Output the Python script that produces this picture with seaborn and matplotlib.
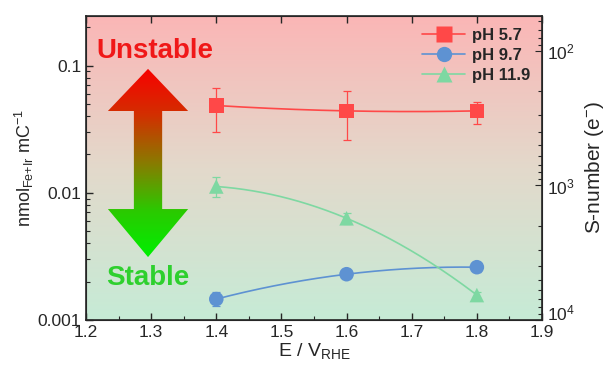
import numpy as np
import pandas as pd
import matplotlib
matplotlib.use("Agg")
import matplotlib.pyplot as plt
from matplotlib.patches import Polygon
from matplotlib.lines import Line2D
from matplotlib.colors import LinearSegmentedColormap
from matplotlib.transforms import ScaledTranslation
import seaborn as sns

# ---- data ----
potential = [1.4, 1.6, 1.8]
series_names = ["pH 5.7", "pH 9.7", "pH 11.9"]
ph57 = [0.0485, 0.044, 0.044]
ph57_lo = [0.0298, 0.0258, 0.035]
ph57_hi = [0.066, 0.0625, 0.052]
ph97 = [0.00146, 0.00229, 0.0026]
ph97_lo = [0.00130, 0.00214, 0.00238]
ph97_hi = [0.00165, 0.00245, 0.00282]
ph119 = [0.0112, 0.0063, 0.00157]
ph119_lo = [0.0092, 0.0057, 0.00150]
ph119_hi = [0.0132, 0.0069, 0.00165]
colors = ["#FF4848", "#5E92D2", "#7ED8A2"]
markers = ["s", "o", "^"]

sns.set_style("ticks")
plt.rcParams["font.family"] = ["Liberation Sans", "DejaVu Sans"]
plt.rcParams["mathtext.fontset"] = "custom"
plt.rcParams["mathtext.rm"] = "Liberation Sans"
plt.rcParams["mathtext.it"] = "Liberation Sans:italic"
plt.rcParams["mathtext.bf"] = "Liberation Sans:bold"

fig = plt.figure(figsize=(6.09, 3.73), dpi=100)
ax = fig.add_axes([86 / 609, 53 / 373, 456 / 609, 304 / 373])

# background gradient
bg = LinearSegmentedColormap.from_list("bg", ["#C6EBD6", "#E3D9CB", "#FBB6B6"])
grad = np.linspace(0, 1, 256).reshape(-1, 1)
ax.imshow(grad, cmap=bg, extent=[0, 1, 0, 1], transform=ax.transAxes,
          aspect="auto", origin="lower", zorder=0)

# double arrow with gradient
cx, hw, sw = 0.136, 0.088, 0.031
yt, yhb, ybb, yb = 0.826, 0.6875, 0.365, 0.207
pts = [(cx, yt), (cx + hw, yhb), (cx + sw, yhb), (cx + sw, ybb), (cx + hw, ybb),
       (cx, yb), (cx - hw, ybb), (cx - sw, ybb), (cx - sw, yhb), (cx - hw, yhb)]
poly = Polygon(pts, closed=True, transform=ax.transAxes, facecolor="none",
               edgecolor="none")
ax.add_patch(poly)
acm = LinearSegmentedColormap.from_list("arr", ["#00F000", "#2CC800", "#8A7A00", "#D23000", "#F80000"])
im = ax.imshow(np.linspace(0, 1, 256).reshape(-1, 1), cmap=acm,
               extent=[cx - hw, cx + hw, yb, yt], transform=ax.transAxes,
               aspect="auto", origin="lower", zorder=1)
im.set_clip_path(poly)

ax.text(0.151, 0.885, "Unstable", transform=ax.transAxes, ha="center",
        va="center", fontsize=20, fontweight="bold", color="#F01818", zorder=3)
ax.text(0.136, 0.138, "Stable", transform=ax.transAxes, ha="center",
        va="center", fontsize=20, fontweight="bold", color="#2ED02E", zorder=3)

ax.set_yscale("log")
ax.set_xlim(1.2, 1.9)
ax.set_ylim(0.001, 0.245)

vals = [ph57, ph97, ph119]
los = [ph57_lo, ph97_lo, ph119_lo]
his = [ph57_hi, ph97_hi, ph119_hi]
xs = np.array(potential)
xd = np.linspace(1.4, 1.8, 200)
for name, v, lo, hi, c, m in zip(series_names, vals, los, his, colors, markers):
    v = np.array(v)
    coef = np.polyfit(xs, np.log10(v), 2)
    df = pd.DataFrame({"x": xd, "y": 10 ** np.polyval(coef, xd)})
    sns.lineplot(data=df, x="x", y="y", ax=ax, color=c, lw=1.2, zorder=4)
    ax.errorbar(xs, v, yerr=[v - np.array(lo), np.array(hi) - v], fmt="none",
                ecolor=c, elinewidth=0.9, capsize=3, capthick=0.9, zorder=4)
    sdf = pd.DataFrame({"x": xs, "y": v})
    sns.scatterplot(data=sdf, x="x", y="y", ax=ax, marker=m, color=c, s=110,
                    edgecolor="none", zorder=5)

ax.set_xlabel("E / V$_{\\mathrm{RHE}}$", fontsize=14, labelpad=1)
ax.set_ylabel("nmol$_{\\mathrm{Fe{+}Ir}}$ mC$^{-1}$", fontsize=13, labelpad=1)
ax.set_xticks(np.arange(1.2, 1.91, 0.1))
ax.set_xticks(np.arange(1.25, 1.9, 0.1), minor=True)
ax.set_xticklabels([f"{t:.1f}" for t in np.arange(1.2, 1.91, 0.1)])
ax.set_yticks([0.001, 0.01, 0.1])
ax.set_yticklabels(["0.001", "0.01", "0.1"])
ax.tick_params(axis="both", which="major", direction="in", length=5,
               labelsize=12.5, width=1, top=True)
ax.tick_params(axis="both", which="minor", direction="in", length=3, width=0.8)
ax.tick_params(axis="x", which="minor", top=False)
for s in ax.spines.values():
    s.set_linewidth(1.2)

ax2 = ax.twinx()
ax2.set_yscale("log")
ax2.set_ylim(1e4, 55)
ax2.set_yticks([1e2, 1e3, 1e4])
ax2.set_yticklabels(["10$^{2}$", "10$^{3}$", "10$^{4}$"])
ax2.tick_params(axis="y", which="major", direction="in", length=5, labelsize=12.5)
ax2.tick_params(axis="y", which="minor", direction="in", length=3, width=0.8)
ax2.set_ylabel("S-number (e$^{-}$)", fontsize=15, labelpad=6)
lab = ax2.get_yticklabels()[-1]
lab.set_transform(lab.get_transform() + ScaledTranslation(0, 6 / 72, fig.dpi_scale_trans))

handles = [Line2D([0], [0], color=c, marker=m, markersize=11, lw=1.2,
                  markeredgecolor="none") for c, m in zip(colors, markers)]
leg = ax.legend(handles, series_names, loc="upper right", frameon=False,
                prop={"weight": "bold", "size": 12}, handlelength=2.6,
                borderaxespad=0.3, labelspacing=0.3, handletextpad=0.4)
leg.set_zorder(6)

fig.savefig("out.png", dpi=100)
